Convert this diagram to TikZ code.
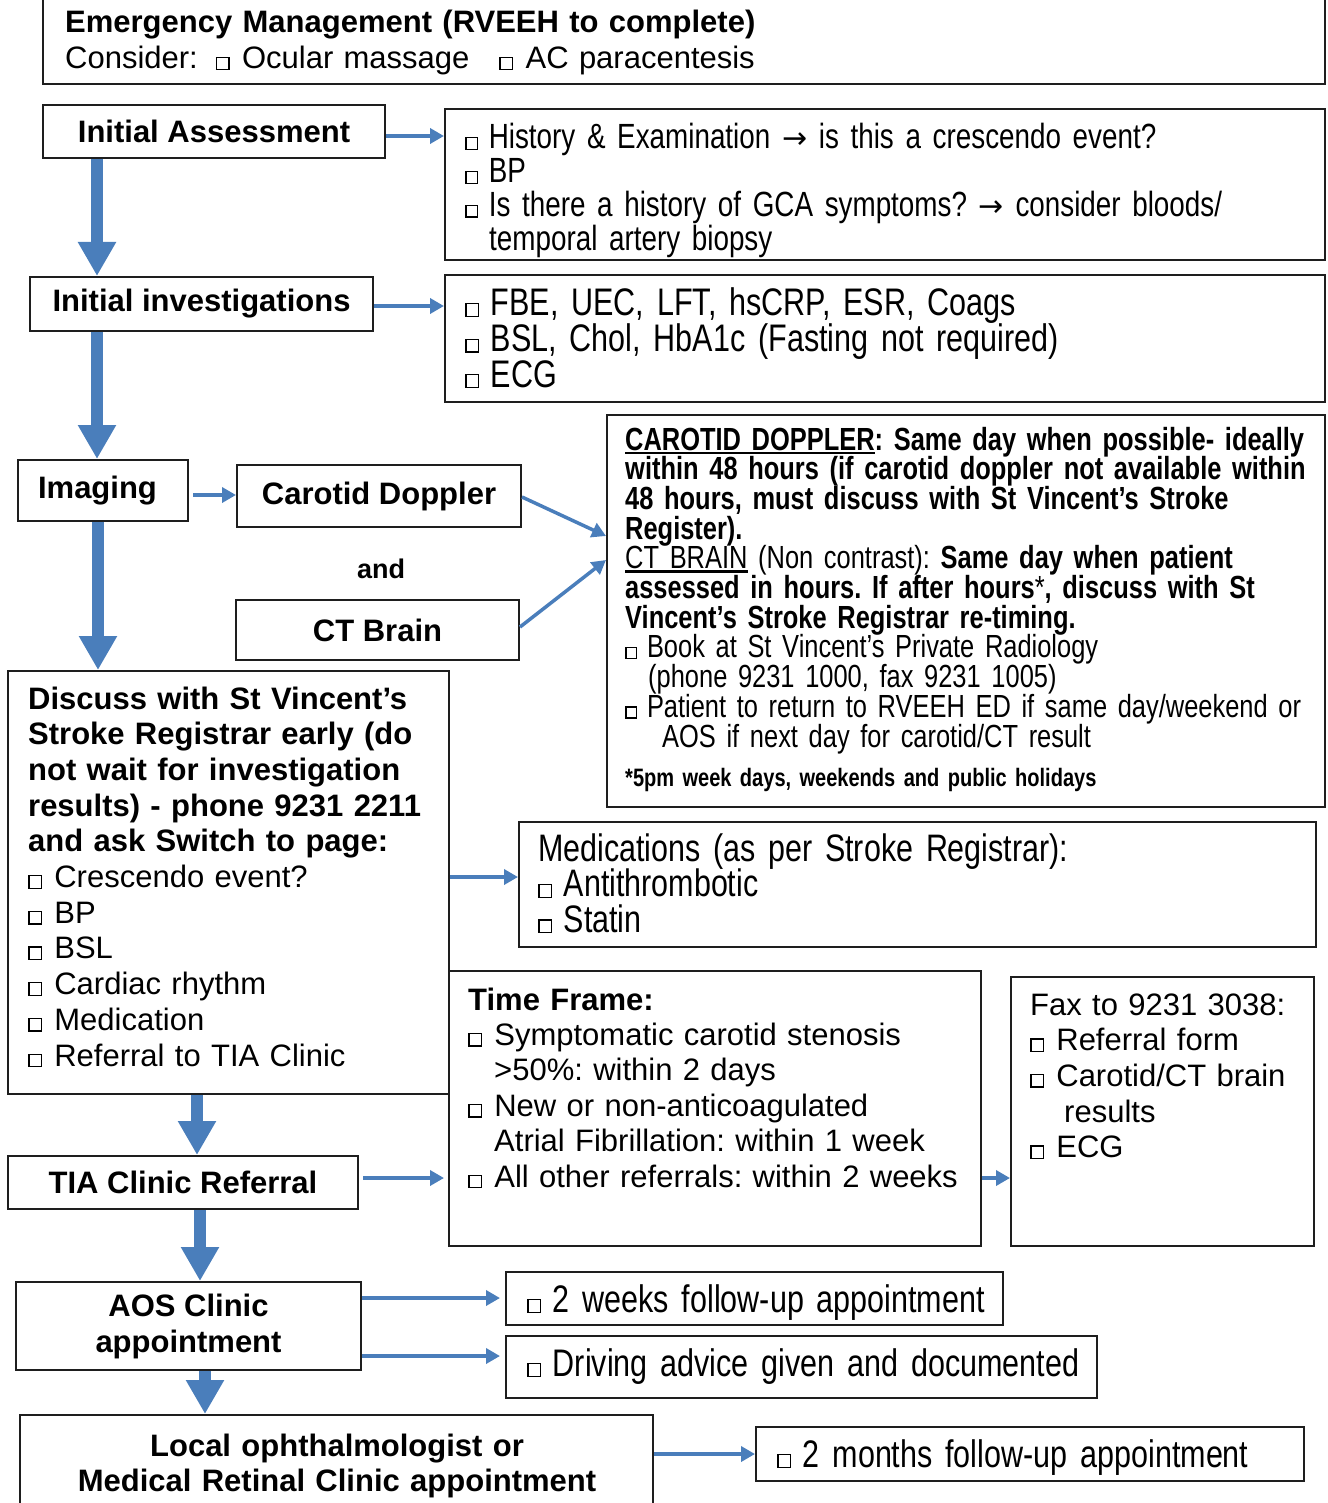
\documentclass[tikz,border=0pt]{standalone}
\usepackage{fontspec}
\setmainfont{Liberation Sans}
\newfontfamily\nar[FakeStretch=0.795]{Liberation Sans}
\newfontfamily\dv{DejaVu Sans}
\usetikzlibrary{arrows.meta,fit,calc}
\definecolor{arrowblue}{RGB}{74,126,187}
\definecolor{edgec}{RGB}{30,30,30}
\frenchspacing
\newcommand\cbx[1]{{\setlength\fboxsep{0pt}\setlength\fboxrule{1.3pt}\fbox{\rule{0pt}{#1}\rule{#1}{0pt}}}}
\newcommand\cb{\cbx{0.36em}\hspace{0.4em}}
\newcommand\cbn{\cbx{0.3em}\hspace{0.3em}}
\newcommand\rarr{{\dv\fontsize{30}{30}\selectfont →}}
\newcommand\myul[1]{\leavevmode\setbox0\hbox{#1}\rlap{\rule[-0.13em]{\wd0}{0.08em}}\box0\relax}
\newcommand\narsize[3]{\nar\fontsize{#1}{#2}\selectfont\spaceskip=#3pt plus 1pt minus 1pt\lineskiplimit=-100pt\relax}
\tikzset{
  box/.style={draw=edgec, line width=2pt, inner sep=0pt},
  hbox/.style={box, font=\fontsize{31}{36}\selectfont\bfseries, align=center},
  txt/.style={inner sep=0pt, anchor=base west, align=left, text width=1000},
  big/.style={-{Triangle[width=36pt,length=34pt]}, line width=12pt, draw=arrowblue},
  thin/.style={-{Triangle[width=15pt,length=14pt]}, line width=3.5pt, draw=arrowblue},
}
\begin{document}
\begin{tikzpicture}[x=1pt,y=-1pt]
\useasboundingbox (0,0) rectangle (1327,1503);
\clip (0,0) rectangle (1327,1503);

% Emergency management
\node[box, fit={(43,-10) (1325,84)}] (em) {};
\node[txt, font=\fontsize{31}{36}\selectfont] (emt) at (65,33)
  {\textbf{Emergency Management (RVEEH to complete)}\\Consider:\hspace{18pt}\cb Ocular massage\hspace{30pt}\cb AC paracentesis};

% Initial assessment
\node[hbox, minimum width=342, minimum height=53] (ia) at (214,131.5) {Initial Assessment};
\node[box, fit={(445,109) (1325,260)}] (hist) {};
\node[txt, font=\narsize{35}{33.7}{7.7}] (histt) at (465,149)
  {\cbn History \& Examination \rarr{} is this a crescendo event?\\
   \cbn BP\\
   \cbn Is there a history of GCA symptoms? \rarr{} consider bloods/\\
   \hspace*{24pt}temporal artery biopsy};

% Initial investigations
\node[hbox, minimum width=343, minimum height=54] (ii) at (201.5,304) {Initial investigations};
\node[box, fit={(445,275) (1325,402)}] (inv) {};
\node[txt, font=\narsize{38.4}{35.5}{8.5}] (invt) at (465,316)
  {\cbn FBE, UEC, LFT, hsCRP, ESR, Coags\\
   \cbn BSL, Chol, HbA1c (Fasting not required)\\
   \cbn ECG};

% Imaging
\node[hbox, minimum width=170, minimum height=61] (img) at (103,490.5) {Imaging\hspace{11pt}};
\node[hbox, minimum width=284, minimum height=62] (cd) at (379,496) {Carotid Doppler};
\node[inner sep=0pt, anchor=base, font=\fontsize{27}{30}\selectfont\bfseries] (andt) at (381,578) {and};
\node[hbox, minimum width=283, minimum height=60] (ct) at (377.5,630) {CT Brain};

\node[box, fit={(607,415) (1325,807)}] (car) {};
\node[txt, font=\narsize{32}{29.7}{7.1}] (cart) at (625,450)
  {\myul{\textbf{CAROTID DOPPLER}}\textbf{: Same day when possible- ideally}\\
   \textbf{within 48 hours (if carotid doppler not available within}\\
   \textbf{48 hours, must discuss with St Vincent’s Stroke}\\
   \textbf{Register).}\\
   \myul{CT BRAIN} (Non contrast): \textbf{Same day when patient}\\
   \textbf{assessed in hours. If after hours}*\textbf{, discuss with St}\\
   \textbf{Vincent’s Stroke Registrar re-timing.}\\
   \cbn Book at St Vincent’s Private Radiology\\
   \hspace*{23pt}(phone 9231 1000, fax 9231 1005)\\
   \cbn Patient to return to RVEEH ED if same day/weekend or\\
   \hspace*{37pt}AOS if next day for carotid/CT result};
\node[txt, font=\narsize{25.2}{28}{5.6}\bfseries] (foot) at (625,786)
  {*5pm week days, weekends and public holidays};

% Discuss
\node[box, fit={(8,671) (449,1094)}] (disc) {};
\node[txt, font=\fontsize{31}{35.7}\selectfont] (disct) at (28,709)
  {\textbf{Discuss with St Vincent’s}\\
   \textbf{Stroke Registrar early (do}\\
   \textbf{not wait for investigation}\\
   \textbf{results) - phone 9231 2211}\\
   \textbf{and ask Switch to page:}\\
   \cb Crescendo event?\\
   \cb BP\\
   \cb BSL\\
   \cb Cardiac rhythm\\
   \cb Medication\\
   \cb Referral to TIA Clinic};

% Medications
\node[box, fit={(519,822) (1316,947)}] (med) {};
\node[txt, font=\narsize{38.3}{35.5}{8.5}] (medt) at (538,861)
  {Medications (as per Stroke Registrar):\\
   \cbn Antithrombotic\\
   \cbn Statin};

% Time frame
\node[box, fit={(449,971) (981,1246)}] (tf) {};
\node[txt, font=\fontsize{31}{35.4}\selectfont] (tft) at (468,1010)
  {\textbf{Time Frame:}\\
   \cb Symptomatic carotid stenosis\\
   \hspace*{26pt}>50\%: within 2 days\\
   \cb New or non-anticoagulated\\
   \hspace*{26pt}Atrial Fibrillation: within 1 week\\
   \cb All other referrals: within 2 weeks};

% Fax
\node[box, fit={(1011,977) (1314,1246)}] (fax) {};
\node[txt, font=\fontsize{31}{35.7}\selectfont] (faxt) at (1030,1015)
  {Fax to 9231 3038:\\
   \cb Referral form\\
   \cb Carotid/CT brain\\
   \hspace*{34pt}results\\
   \cb ECG};

% TIA, AOS, Local
\node[hbox, minimum width=350, minimum height=53] (tia) at (183,1182.5) {TIA Clinic Referral};
\node[hbox, minimum width=345, minimum height=88] (aos) at (188.5,1326) {AOS Clinic\\appointment};
\node[box, fit={(506,1272) (1003,1325)}] (w2) {};
\node[txt, font=\narsize{38.4}{35.5}{8.5}] (w2t) at (527,1312) {\cbn 2 weeks follow-up appointment};
\node[box, fit={(506,1336) (1097,1398)}] (drv) {};
\node[txt, font=\narsize{38.4}{35.5}{8.5}] (drvt) at (527,1376) {\cbn Driving advice given and documented};
\node[box, fit={(20,1415) (653,1525)}] (loc) {};
\node[inner sep=0pt, anchor=base, text width=620, align=center, font=\fontsize{31}{35}\selectfont\bfseries] (loct) at (337,1456)
  {Local ophthalmologist or\\Medical Retinal Clinic appointment};
\node[box, fit={(756,1427) (1304,1481)}] (m2) {};
\node[txt, font=\narsize{38.4}{35.5}{8.5}] (m2t) at (777,1467) {\cbn 2 months follow-up appointment};

% thick arrows
\draw[big] (ia.south -| 97,0) -- (ii.north -| 97,0);
\draw[big] (ii.south -| 97,0) -- (img.north -| 97,0);
\draw[big] (img.south -| 98,0) -- (disc.north -| 98,0);
\draw[big] (disc.south -| 197,0) -- (tia.north -| 197,0);
\draw[big] (tia.south -| 200,0) -- (aos.north -| 200,0);
\draw[big] (aos.south -| 205,0) -- (loc.north -| 205,0);

% thin arrows
\draw[thin] (ia.east |- 0,136) -- (hist.west |- 0,136);
\draw[thin] (ii.east |- 0,306) -- (inv.west |- 0,306);
\draw[thin, shorten <=4pt] (img.east |- 0,495) -- (cd.west |- 0,495);
\draw[thin] (cd.east |- 0,497) -- (car.west |- 0,536);
\draw[thin] (ct.east |- 0,627) -- (car.west |- 0,560);
\draw[thin] (disc.east |- 0,877) -- (med.west |- 0,877);
\draw[thin, shorten <=4pt, shorten >=4pt] (tia.east |- 0,1178) -- (tf.west |- 0,1178);
\draw[thin] (tf.east |- 0,1178) -- (fax.west |- 0,1178);
\draw[thin, shorten >=5pt] (aos.east |- 0,1298) -- (w2.west |- 0,1298);
\draw[thin, shorten >=5pt] (aos.east |- 0,1356) -- (drv.west |- 0,1356);
\draw[thin] (loc.east |- 0,1454) -- (m2.west |- 0,1454);
\end{tikzpicture}
\end{document}
